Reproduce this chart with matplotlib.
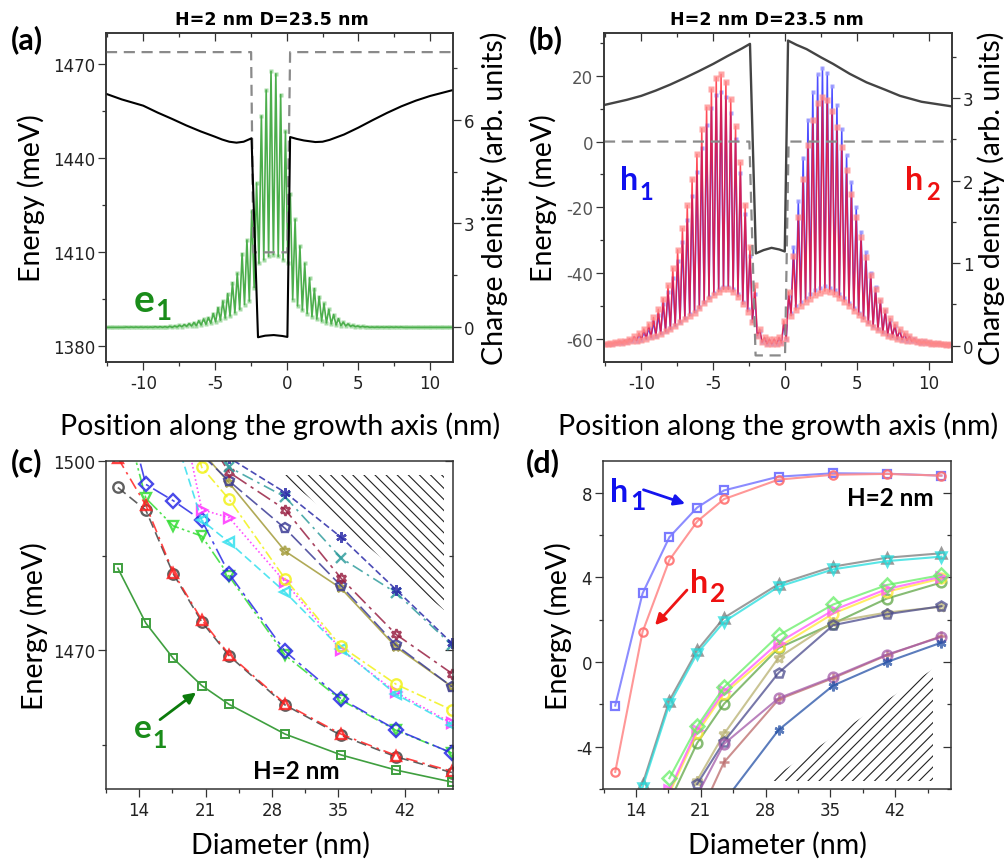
import numpy as np
import matplotlib
matplotlib.use("Agg")
import matplotlib.pyplot as plt
from matplotlib.ticker import MultipleLocator

plt.rcParams['font.family'] = ['Lato', 'DejaVu Sans']
plt.rcParams['axes.unicode_minus'] = False
plt.rcParams['hatch.linewidth'] = 0.8

# ---------------------------------------------------------------- data
# atomic-plane sites along the growth axis (nm)
site_first = -12.516
site_step = 0.336
n_sites = 72

# (a) electron e1 charge density: high / low sub-lattice values per site
e1_high = [0, 0, 0, 0, 0.01, 0.01, 0.01, 0.01, 0.01, 0.01, 0.02, 0.02,
           0.02, 0.03, 0.04, 0.06, 0.08, 0.11, 0.14, 0.19, 0.24, 0.28,
           0.40, 0.57, 0.76, 0.97, 1.29, 1.56, 2.13, 2.52, 3.36, 4.17,
           6.10, 6.85, 7.39, 7.32, 6.72, 5.66, 3.86, 3.12, 2.35, 1.85,
           1.43, 1.12, 0.89, 0.69, 0.52, 0.37, 0.25, 0.15, 0.10, 0.06,
           0.04, 0.03, 0.02, 0.01, 0.01, 0.01, 0.01, 0.01, 0.01, 0.01,
           0, 0, 0, 0, 0, 0, 0, 0, 0, 0]
e1_low = [0, 0, 0, 0, 0, 0, 0, 0, 0, 0, 0, 0,
          0, 0, 0.01, 0.02, 0.03, 0.04, 0.05, 0.07, 0.09, 0.12,
          0.16, 0.21, 0.27, 0.33, 0.42, 0.52, 0.66, 0.76, 1.15, 1.85,
          1.95, 2.05, 2.10, 2.05, 1.95, 1.85, 0.80, 0.62, 0.50, 0.40,
          0.31, 0.24, 0.18, 0.13, 0.10, 0.07, 0.05, 0.04, 0.03, 0.02,
          0.01, 0.01, 0, 0, 0, 0, 0, 0, 0, 0,
          0, 0, 0, 0, 0, 0, 0, 0, 0, 0]

# (b) hole h1 / h2 charge densities
h1_high = [0.02, 0.02, 0.03, 0.04, 0.05, 0.07, 0.09, 0.12, 0.16, 0.21, 0.28, 0.37,
           0.50, 0.65, 0.82, 1.03, 1.26, 1.52, 1.81, 2.10, 2.40, 2.67,
           2.88, 3.04, 3.08, 3.01, 2.82, 2.51, 2.09, 1.60, 1.09, 0.62,
           0.18, 0.08, 0.05, 0.05, 0.08, 0.25, 0.60, 1.20, 1.75, 2.28,
           2.74, 3.08, 3.29, 3.37, 3.31, 3.15, 2.92, 2.63, 2.31, 1.98,
           1.68, 1.38, 1.13, 0.88, 0.71, 0.54, 0.42, 0.31, 0.24, 0.18,
           0.13, 0.10, 0.08, 0.06, 0.05, 0.04, 0.03, 0.03, 0.02, 0.02]
h1_low = [0.02, 0.02, 0.03, 0.03, 0.04, 0.05, 0.06, 0.07, 0.09, 0.10, 0.12, 0.15,
          0.18, 0.21, 0.25, 0.29, 0.33, 0.38, 0.42, 0.47, 0.53, 0.59,
          0.64, 0.68, 0.71, 0.71, 0.68, 0.62, 0.53, 0.44, 0.30, 0.12,
          0.04, 0.02, 0.02, 0.02, 0.03, 0.08, 0.40, 0.48, 0.53, 0.58,
          0.63, 0.67, 0.70, 0.72, 0.70, 0.67, 0.63, 0.58, 0.52, 0.46,
          0.40, 0.34, 0.29, 0.24, 0.20, 0.16, 0.13, 0.11, 0.09, 0.07,
          0.06, 0.05, 0.04, 0.03, 0.03, 0.02, 0.02, 0.02, 0.01, 0.01]
h2_high = [0.02, 0.03, 0.04, 0.05, 0.06, 0.08, 0.11, 0.15, 0.20, 0.26, 0.34, 0.44,
           0.57, 0.73, 0.94, 1.16, 1.42, 1.70, 2.02, 2.32, 2.63, 2.89,
           3.11, 3.25, 3.29, 3.20, 2.99, 2.66, 2.22, 1.71, 1.20, 0.73,
           0.20, 0.10, 0.08, 0.08, 0.10, 0.30, 0.65, 1.09, 1.56, 2.02,
           2.43, 2.73, 2.94, 3.01, 2.98, 2.85, 2.65, 2.41, 2.13, 1.84,
           1.56, 1.31, 1.07, 0.86, 0.69, 0.55, 0.43, 0.33, 0.26, 0.20,
           0.15, 0.11, 0.08, 0.06, 0.05, 0.04, 0.03, 0.03, 0.02, 0.02]
h2_low = [0.02, 0.02, 0.03, 0.03, 0.04, 0.05, 0.06, 0.07, 0.08, 0.10, 0.12, 0.14,
          0.17, 0.20, 0.24, 0.28, 0.32, 0.36, 0.40, 0.45, 0.51, 0.56,
          0.61, 0.65, 0.68, 0.68, 0.65, 0.59, 0.50, 0.41, 0.28, 0.12,
          0.04, 0.02, 0.02, 0.02, 0.03, 0.08, 0.36, 0.43, 0.48, 0.53,
          0.57, 0.61, 0.64, 0.66, 0.65, 0.62, 0.58, 0.53, 0.48, 0.42,
          0.37, 0.32, 0.27, 0.23, 0.19, 0.15, 0.12, 0.10, 0.08, 0.07,
          0.06, 0.05, 0.04, 0.03, 0.03, 0.02, 0.02, 0.02, 0.01, 0.01]

# band-edge profiles
cb_x = [-12.6, -11.5, -10, -9, -8, -7, -6, -5, -4.5, -4, -3.5, -3, -2.45,
        -2.0, -1.5, -0.9, -0.3, 0.05, 0.24, 0.7, 1.2, 2.0, 2.5, 3, 4, 5, 6,
        7, 8, 9, 10, 11.6]
cb_E = [1460.6, 1458.8, 1456.8, 1454.6, 1452.6, 1450.5, 1448.6, 1446.9,
        1446.0, 1445.3, 1445.0, 1445.3, 1446.4, 1382.9, 1383.4, 1383.6,
        1383.3, 1383.0, 1446.8, 1446.2, 1445.7, 1445.2, 1445.3, 1445.9,
        1447.6, 1449.8, 1452.2, 1454.5, 1456.6, 1458.4, 1459.9, 1461.8]
cb_bulk_x = [-12.6, -2.48, -2.32, 0.05, 0.24, 11.6]
cb_bulk_E = [1473.9, 1473.9, 1410.0, 1410.0, 1473.9, 1473.9]

vb_x = [-12.6, -11, -10, -9, -8, -7, -6, -5, -4, -3, -2.44, -2.03, -1.5,
        -0.94, -0.4, -0.02, 0.21, 0.8, 1.5, 2.5, 3.35, 4.5, 5.67, 7, 8, 9.5,
        11.6]
vb_E = [11.1, 12.7, 13.9, 15.5, 17.3, 19.3, 21.4, 23.6, 26.0, 28.3, 29.7,
        -34.0, -33.0, -32.3, -32.8, -33.4, 30.7, 29.4, 28.1, 25.6, 23.6,
        20.6, 18.0, 15.7, 13.9, 12.1, 10.7]
vb_bulk_x = [-12.6, -2.48, -2.05, 0.0, 0.25, 11.6]
vb_bulk_E = [0.0, 0.0, -65.0, -65.0, 0.0, 0.0]

# (c), (d) levels versus dot diameter
diameter = [11.75, 14.7, 17.6, 20.6, 23.5, 29.4, 35.3, 41.1, 47.0]
nan = np.nan
e_levels = [
    # (values, colour, marker, linestyle)
    ([1511.0, 1494.1, 1489.7, 1488.1, 1481.7, 1469.2, 1462.1, 1457.3, 1453.7],
     '#33dd33', 'v', (0, (8, 2, 1.5, 2, 1.5, 2))),
    ([1513.4, 1496.3, 1493.7, 1490.6, 1482.1, 1469.8, 1462.3, 1457.4, 1453.7],
     '#2a2ae6', 'D', (0, (10, 3, 2, 3))),
    ([nan, 1525.0, 1513.8, 1492.3, 1491.0, 1480.8, 1470.05, 1463.3, 1458.4],
     '#ff33ff', '>', (0, (1, 1.5))),
    ([nan, 1520.0, 1504.8, 1490.6, 1487.1, 1479.2, 1470.2, 1463.0, 1458.2],
     '#33e0ee', '<', (0, (5, 2.5))),
    ([nan, nan, 1515.0, 1499.0, 1493.9, 1481.3, 1470.6, 1464.6, 1460.5],
     '#f2f21a', 'o', (0, (6, 2, 1.5, 2))),
    ([nan, nan, 1510.0, 1501.5, 1496.5, 1485.7, 1479.8, 1470.5, 1464.2],
     '#a39b3a', '*', '-'),
    ([nan, nan, nan, 1501.0, 1496.8, 1489.3, 1480.2, 1470.8, 1464.2],
     '#3c3c96', 'p', (0, (9, 3))),
    ([nan, nan, nan, 1505.0, 1498.2, 1492.3, 1481.4, 1472.5, 1466.3],
     '#992244', (6, 1, 0), (0, (9, 3, 2, 3))),
    ([nan, nan, nan, 1507.0, 1499.0, 1494.3, 1484.6, 1479.1, 1470.8],
     '#339e9e', 'x', (0, (7, 3, 1.5, 3))),
    ([nan, nan, nan, 1508.0, 1500.5, 1495.0, 1487.9, 1479.6, 1471.1],
     '#2b2ba8', (6, 2, 0), (0, (4, 2))),
    ([1495.8, 1492.2, 1482.1, 1474.5, 1469.1, 1461.3, 1456.5, 1453.1, 1450.6],
     '#444444', 'o', (0, (6, 3))),
    ([1500.5, 1493.0, 1482.3, 1474.8, 1469.3, 1461.5, 1456.7, 1453.3, 1450.8],
     '#ff2222', '^', (0, (7, 3, 1.5, 3))),
]
e1_level = [1483.0, 1474.3, 1468.7, 1464.4, 1461.4, 1456.7, 1453.4, 1451.0, 1449.1]

h1_level = [-2.06, 3.24, 5.90, 7.30, 8.11, 8.76, 8.92, 8.90, 8.81]
h2_level = [-5.19, 1.42, 4.82, 6.64, 7.70, 8.62, 8.85, 8.89, 8.81]
h_levels = [
    ([nan, -5.77, -1.82, 0.55, 2.09, 3.68, 4.51, 4.93, 5.14], '#7a7a7a', '^'),
    ([nan, -5.93, -2.00, 0.40, 1.90, 3.56, 4.38, 4.77, 4.98], '#22dddd', 'v'),
    ([nan, nan, -6.60, -3.83, -1.98, 0.66, 1.82, 3.00, 3.76], '#5fa645', 'o'),
    ([nan, nan, -6.20, -3.35, -1.50, 0.71, 2.29, 3.32, 3.95], '#ffe833', 'o'),
    ([nan, nan, -6.05, -3.19, -1.38, 0.92, 2.45, 3.45, 4.03], '#ff55ff', '>'),
    ([nan, nan, -5.49, -3.04, -1.19, 1.26, 2.72, 3.64, 4.11], '#66ee66', 'D'),
    ([nan, nan, nan, -5.60, -3.40, 0.21, 1.90, 2.34, 2.61], '#b8b070', '*'),
    ([nan, nan, nan, -5.77, -3.76, -0.51, 1.74, 2.26, 2.64], '#4a4a8c', 'p'),
    ([nan, nan, nan, -7.50, -4.74, -1.77, -0.76, 0.32, 1.22], '#bb6a6a', '+'),
    ([nan, nan, nan, -6.30, -3.87, -1.71, -0.71, 0.35, 1.19], '#a35aa8', 'o'),
    ([nan, nan, nan, nan, -6.60, -3.21, -1.11, 0.00, 0.92], '#2450a6', (6, 2, 0)),
]

# shaded (unbound) regions
c_shade_x = [29.1, 46.1, 46.1]
c_shade_E = [1497.8, 1497.8, 1476.3]
d_shade_x = [28.3, 46.1, 46.1]
d_shade_E = [-5.61, -5.61, -0.32]

# ---------------------------------------------------------------- figure
W, H = 1008, 862
fig = plt.figure(figsize=(W / 100, H / 100), dpi=100)
SP = '#333333'
TICKFONT = 'DejaVu Sans'
TICKSIZE = 12


def box(l, t, r, b):
    return [l / W, 1 - b / H, (r - l) / W, (b - t) / H]


def ftext(x, y, s, **kw):
    fig.text(x / W, 1 - y / H, s, **kw)


def frame(ax):
    for s in ax.spines.values():
        s.set_color(SP)
        s.set_linewidth(1.1)
    ax.tick_params(which='both', direction='out', color=SP, width=0.9,
                   labelsize=TICKSIZE, labelcolor='#222222',
                   labelfontfamily=TICKFONT)
    ax.tick_params(which='major', length=5.5)
    ax.tick_params(which='minor', length=3)
    ax.tick_params(axis='x', pad=3)
    ax.tick_params(axis='y', pad=2.5)


def inner_top(ax, major, minor):
    sec = ax.secondary_xaxis('top')
    sec.xaxis.set_major_locator(MultipleLocator(major))
    sec.xaxis.set_minor_locator(MultipleLocator(minor))
    sec.tick_params(which='both', direction='in', labeltop=False, color=SP, width=0.9)
    sec.tick_params(which='major', length=5.5)
    sec.tick_params(which='minor', length=3)
    sec.spines['top'].set_visible(False)


def inner_right(ax, major, minor):
    sec = ax.secondary_yaxis('right')
    sec.yaxis.set_major_locator(MultipleLocator(major))
    sec.yaxis.set_minor_locator(MultipleLocator(minor))
    sec.tick_params(which='both', direction='in', labelright=False, color=SP, width=0.9)
    sec.tick_params(which='major', length=5.5)
    sec.tick_params(which='minor', length=3)
    sec.spines['right'].set_visible(False)


sites = site_first + site_step * np.arange(n_sites)


def zigzag(high, low):
    xs = np.column_stack([sites, sites + site_step / 2]).ravel()
    ys = np.column_stack([high, low]).ravel()
    return xs, ys


bulk_style = dict(color='#8a8a8a', lw=1.6, ls=(0, (5, 3)))

# ---------------- (a)
axa = fig.add_axes(box(106, 34, 453, 363))
frame(axa)
axa.set_xlim(-12.6, 11.6)
axa.set_ylim(1375, 1480)
axa.xaxis.set_major_locator(MultipleLocator(5))
axa.xaxis.set_minor_locator(MultipleLocator(2.5))
axa.yaxis.set_major_locator(MultipleLocator(30))
axa.yaxis.set_minor_locator(MultipleLocator(15))
inner_top(axa, 5, 2.5)
axa_r = axa.twinx()
frame(axa_r)
axa_r.set_ylim(-1.0, 8.5)
axa_r.yaxis.set_major_locator(MultipleLocator(3))
axa_r.yaxis.set_minor_locator(MultipleLocator(1.5))
xs, ys = zigzag(e1_high, e1_low)
axa_r.plot(xs, ys, ls='none', marker='s', ms=3.3, mfc='#a8dca8', mec='none')
axa_r.plot(xs, ys, color='#4cae4c', lw=1.2)
axa.set_zorder(axa_r.get_zorder() + 1)
axa.patch.set_visible(False)
axa.plot(cb_bulk_x, cb_bulk_E, **bulk_style)
axa.plot(cb_x, cb_E, color='black', lw=1.5)

# ---------------- (b)
axb = fig.add_axes(box(604, 34, 951.7, 363))
frame(axb)
axb.set_xlim(-12.6, 11.6)
axb.set_ylim(-67, 33)
axb.xaxis.set_major_locator(MultipleLocator(5))
axb.xaxis.set_minor_locator(MultipleLocator(2.5))
axb.yaxis.set_major_locator(MultipleLocator(20))
axb.yaxis.set_minor_locator(MultipleLocator(10))
axb.tick_params(axis='y', labelcolor='#555555')
inner_top(axb, 5, 2.5)
axb_r = axb.twinx()
frame(axb_r)
axb_r.set_ylim(-0.2, 3.79)
axb_r.yaxis.set_major_locator(MultipleLocator(1))
axb_r.yaxis.set_minor_locator(MultipleLocator(0.5))
xs, ys = zigzag(h1_high, h1_low)
axb_r.plot(xs, ys, color='#3a3aff', lw=1.1, marker='s', ms=3.3,
           mfc='#9c9cff', mec='none', alpha=0.9)
xs, ys = zigzag(h2_high, h2_low)
axb_r.plot(xs, ys, color='#ff1020', lw=1.1, marker='s', ms=4.3,
           mfc='#ff8a8a', mec='none', alpha=0.75)
axb.set_zorder(axb_r.get_zorder() + 1)
axb.patch.set_visible(False)
axb.plot(vb_bulk_x, vb_bulk_E, **bulk_style)
axb.plot(vb_x, vb_E, color='#444444', lw=1.7)

# ---------------- (c)
axc = fig.add_axes(box(106, 462, 453, 790))
frame(axc)
axc.set_xlim(10.5, 47.1)
axc.set_ylim(1448, 1500)
axc.xaxis.set_major_locator(MultipleLocator(7))
axc.xaxis.set_minor_locator(MultipleLocator(3.5))
axc.yaxis.set_major_locator(MultipleLocator(30))
axc.yaxis.set_minor_locator(MultipleLocator(15))
inner_right(axc, 30, 15)
axc.fill(c_shade_x, c_shade_E, facecolor='none', edgecolor='#222222',
         hatch='\\\\\\', lw=0)
for vals, col, mk, ls in e_levels:
    axc.plot(diameter, vals, color=col, ls=ls, lw=1.2, marker=mk, ms=7.5,
             mfc='none', mec=col, mew=1.7, alpha=0.85)
axc.plot(diameter, e1_level, color='#3f9f3f', lw=1.2, marker='s', ms=5.5,
         mfc='none', mec='#3f9f3f', mew=1.4)
axc.annotate('', xy=(20.0, 1463.3), xytext=(16.2, 1459.0),
             arrowprops=dict(arrowstyle='-|>', color='#0b7a0b', lw=2.0,
                             mutation_scale=16, shrinkA=0, shrinkB=0))

# ---------------- (d)
axd = fig.add_axes(box(603.3, 462, 950.7, 790))
frame(axd)
axd.set_xlim(10.46, 48.0)
axd.set_ylim(-6.0, 9.5)
axd.xaxis.set_major_locator(MultipleLocator(7))
axd.xaxis.set_minor_locator(MultipleLocator(3.5))
axd.yaxis.set_major_locator(MultipleLocator(4))
axd.yaxis.set_minor_locator(MultipleLocator(2))
inner_right(axd, 4, 2)
axd.fill(d_shade_x, d_shade_E, facecolor='none', edgecolor='#222222',
         hatch='///', lw=0)
for vals, col, mk in h_levels:
    axd.plot(diameter, vals, color=col, lw=1.5, marker=mk, ms=7,
             mfc='none', mec=col, mew=1.8, alpha=0.75)
axd.plot(diameter, h1_level, color='#8c8cff', lw=1.5, marker='s', ms=5.5,
         mfc='none', mec='#7a7aff', mew=1.6)
axd.plot(diameter, h2_level, color='#ff8c8c', lw=1.5, marker='o', ms=6,
         mfc='none', mec='#ff7070', mew=1.6, alpha=0.9)
axd.annotate('', xy=(19.3, 7.48), xytext=(14.8, 8.14),
             arrowprops=dict(arrowstyle='-|>', color='#1515ee', lw=2.0,
                             mutation_scale=16, shrinkA=0, shrinkB=0))
axd.annotate('', xy=(16.05, 1.74), xytext=(19.5, 3.40),
             arrowprops=dict(arrowstyle='-|>', color='#ee1515', lw=2.0,
                             mutation_scale=16, shrinkA=0, shrinkB=0))

# ---------------- texts
bold = dict(fontweight='bold')
for x in (272, 767):
    ftext(x, 20, 'H=2 nm D=23.5 nm', ha='center', va='center', fontsize=12.6,
          family='DejaVu Sans', **bold)
for lab, x, y in [('(a)', 11, 40), ('(b)', 529, 40), ('(c)', 11, 463), ('(d)', 526, 463)]:
    ftext(x, y, lab, ha='left', va='center', fontsize=22, **bold)

for x, y in [(31.5, 198), (543, 198), (34, 626), (558.5, 626)]:
    ftext(x, y, 'Energy (meV)', rotation=90, ha='center', va='center', fontsize=20.5)
for x in (280, 778):
    ftext(x, 426, 'Position along the growth axis (nm)', ha='center', va='center',
          fontsize=20.5)
for x in (280, 777):
    ftext(x, 845, 'Diameter (nm)', ha='center', va='center', fontsize=20.5)
for x in (494, 991.5):
    ftext(x, 198, 'Charge denisity (arb. units)', rotation=90, ha='center',
          va='center', fontsize=20.5)


def state_label(x, y, letter, index, color, size, subsize, dx, dy):
    ftext(x, y, letter, color=color, fontsize=size, ha='left', va='baseline', **bold)
    ftext(x + dx, y + dy, index, color=color, fontsize=subsize, ha='left',
          va='baseline', **bold)


state_label(133.5, 312, 'e', '1', '#1a8c1a', 28, 20, 21.5, 8)
state_label(134, 738, 'e', '1', '#1a8c1a', 24, 18, 18.5, 10)
state_label(620, 190, 'h', '1', '#1010ee', 23, 17, 19.5, 10)
state_label(905, 190, 'h', '2', '#ee1010', 23, 17, 20.7, 10)
state_label(610, 502, 'h', '1', '#1010ee', 23, 19, 20.3, 8)
state_label(690, 593, 'h', '2', '#ee1010', 23, 19, 20.3, 9)
ftext(253, 779, 'H=2 nm', ha='left', va='baseline', fontsize=17.5, **bold)
ftext(847, 506, 'H=2 nm', ha='left', va='baseline', fontsize=17.5, **bold)

fig.savefig('out.png', dpi=100)
